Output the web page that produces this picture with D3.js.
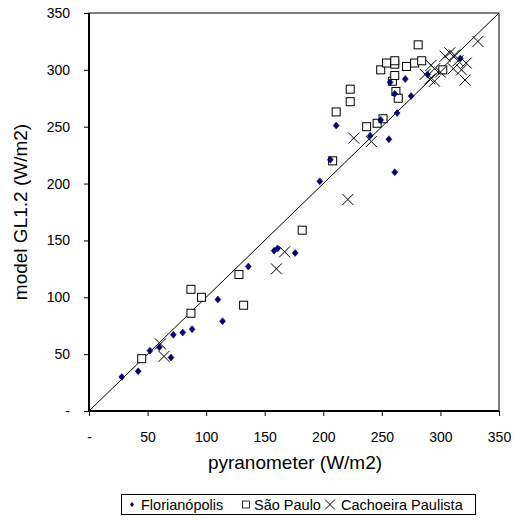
<!DOCTYPE html>
<html>
<head>
<meta charset="utf-8">
<script src="https://cdn.jsdelivr.net/npm/d3@7"></script>
<style>
  body { margin: 0; background: #fff; }
  text { font-family: "Liberation Sans", Arial, sans-serif; }
</style>
</head>
<body>
<div id="chart"></div>
<script>
// Series values [pyranometer, model]
const florianopolis = [
  [28, 30], [42, 35], [52, 53], [60, 56], [70, 47], [72, 67], [80, 69], [88, 72],
  [110, 98], [114, 79], [136, 127], [158, 141], [161, 143], [176, 139], [197, 202],
  [206, 221], [211, 251], [240, 242], [249, 256], [256, 239], [257, 289], [261, 279],
  [261, 210], [263, 262], [270, 292], [275, 277], [289, 296], [317, 310]
];
const saoPaulo = [
  [45, 46], [87, 86], [87, 107], [96, 100], [128, 120], [132, 93], [182, 159],
  [208, 220], [211, 263], [223, 272], [223, 283], [237, 250], [246, 253], [251, 257],
  [249, 300], [254, 306], [261, 305], [261, 308], [259, 290], [261, 295], [262, 281],
  [264, 275], [271, 303], [278, 306], [281, 322], [284, 308], [302, 300]
];
const cachoeira = [
  [61, 59], [64, 48], [160, 125], [167, 140], [221, 186], [226, 240], [241, 237],
  [287, 296], [291, 292], [292, 304], [295, 301], [295, 290], [304, 312], [308, 315],
  [312, 313], [311, 301], [318, 300], [321, 291], [322, 306], [332, 325], [315, 308],
  [300, 298]
];
const tickValues = [0, 50, 100, 150, 200, 250, 300, 350];
const legendLabels = ["Florianópolis", "São Paulo", "Cachoeira Paulista"];

const width = 514, height = 520;
const margin = { left: 89, right: 15, top: 13, bottom: 109 };

const svg = d3.select("#chart").append("svg")
  .attr("width", width)
  .attr("height", height);

const x = d3.scaleLinear().domain([0, 350]).range([margin.left, width - margin.right]);
const y = d3.scaleLinear().domain([0, 350]).range([height - margin.bottom, margin.top]);

const fmt = d => d === 0 ? "-" : d;

// plot border (thin top/right)
svg.append("rect")
  .attr("x", x(0)).attr("y", y(350))
  .attr("width", x(350) - x(0)).attr("height", y(0) - y(350))
  .attr("fill", "none").attr("stroke", "black").attr("stroke-width", 1);

// 1:1 line
svg.append("line")
  .attr("x1", x(0)).attr("y1", y(0))
  .attr("x2", x(350)).attr("y2", y(350))
  .attr("stroke", "black").attr("stroke-width", 1);

// axes
const xAxis = svg.append("g")
  .attr("transform", `translate(0,${y(0)})`)
  .call(d3.axisBottom(x).tickValues(tickValues).tickFormat(fmt).tickSize(5).tickPadding(16));
const yAxis = svg.append("g")
  .attr("transform", `translate(${x(0)},0)`)
  .call(d3.axisLeft(y).tickValues(tickValues).tickFormat(fmt).tickSize(5).tickPadding(14));

[xAxis, yAxis].forEach(g => {
  g.select(".domain").remove();
  g.selectAll(".tick line").attr("stroke", "black");
  g.selectAll(".tick text").attr("fill", "black").style("font-size", "14px")
    .style("font-family", "'Liberation Sans', Arial, sans-serif");
});
svg.append("line").attr("x1", x(0)).attr("x2", x(350)).attr("y1", y(0)).attr("y2", y(0))
  .attr("stroke", "black").attr("stroke-width", 2);
svg.append("line").attr("x1", x(0)).attr("x2", x(0)).attr("y1", y(0) + 1).attr("y2", y(350))
  .attr("stroke", "black").attr("stroke-width", 2);

// axis titles
svg.append("text")
  .attr("x", (x(0) + x(350)) / 2 + 1).attr("y", 469)
  .attr("text-anchor", "middle").style("font-size", "19px")
  .text("pyranometer (W/m2)");
svg.append("text")
  .attr("transform", `translate(27,${(y(0) + y(350)) / 2}) rotate(-90)`)
  .attr("text-anchor", "middle").style("font-size", "19px")
  .text("model GL1.2 (W/m2)");

// marker shapes
const diamond = (g, cx, cy) => g.append("path")
  .attr("d", `M${cx},${cy - 3.5}L${cx + 3},${cy}L${cx},${cy + 3.5}L${cx - 3},${cy}Z`)
  .attr("fill", "#000080").attr("stroke", "#000040").attr("stroke-width", 0.5);
const square = (g, cx, cy) => g.append("rect")
  .attr("x", cx - 4).attr("y", cy - 4).attr("width", 8).attr("height", 8)
  .attr("fill", "white").attr("stroke", "black").attr("stroke-width", 1);
const cross = (g, cx, cy, s = 5.5) => g.append("path")
  .attr("d", `M${cx - s},${cy - s}L${cx + s},${cy + s}M${cx - s},${cy + s}L${cx + s},${cy - s}`)
  .attr("stroke", "black").attr("stroke-width", 1).attr("fill", "none");

const pts = svg.append("g");
saoPaulo.forEach(d => square(pts, x(d[0]), y(d[1])));
cachoeira.forEach(d => cross(pts, x(d[0]), y(d[1])));
florianopolis.forEach(d => diamond(pts, x(d[0]), y(d[1])));

// legend
const lg = svg.append("g");
lg.append("rect").attr("x", 121.5).attr("y", 494.5).attr("width", 354).attr("height", 20)
  .attr("fill", "white").attr("stroke", "black").attr("stroke-width", 1);
const ly = 504.5;
const items = [
  { sx: 132, tx: 141, draw: (g, cx) => g.append("path")
      .attr("d", `M${cx},${ly - 2.5}L${cx + 2},${ly}L${cx},${ly + 2.5}L${cx - 2},${ly}Z`)
      .attr("fill", "#000080") },
  { sx: 246, tx: 254, draw: (g, cx) => g.append("rect")
      .attr("x", cx - 3.5).attr("y", ly - 3.5).attr("width", 7).attr("height", 7)
      .attr("fill", "white").attr("stroke", "black").attr("stroke-width", 0.8) },
  { sx: 330, tx: 341, draw: (g, cx) => cross(g, cx, ly, 5) }
];
items.forEach((it, i) => {
  it.draw(lg, it.sx);
  lg.append("text").attr("x", it.tx).attr("y", ly + 5)
    .style("font-size", "14.5px").text(legendLabels[i]);
});
</script>
</body>
</html>
